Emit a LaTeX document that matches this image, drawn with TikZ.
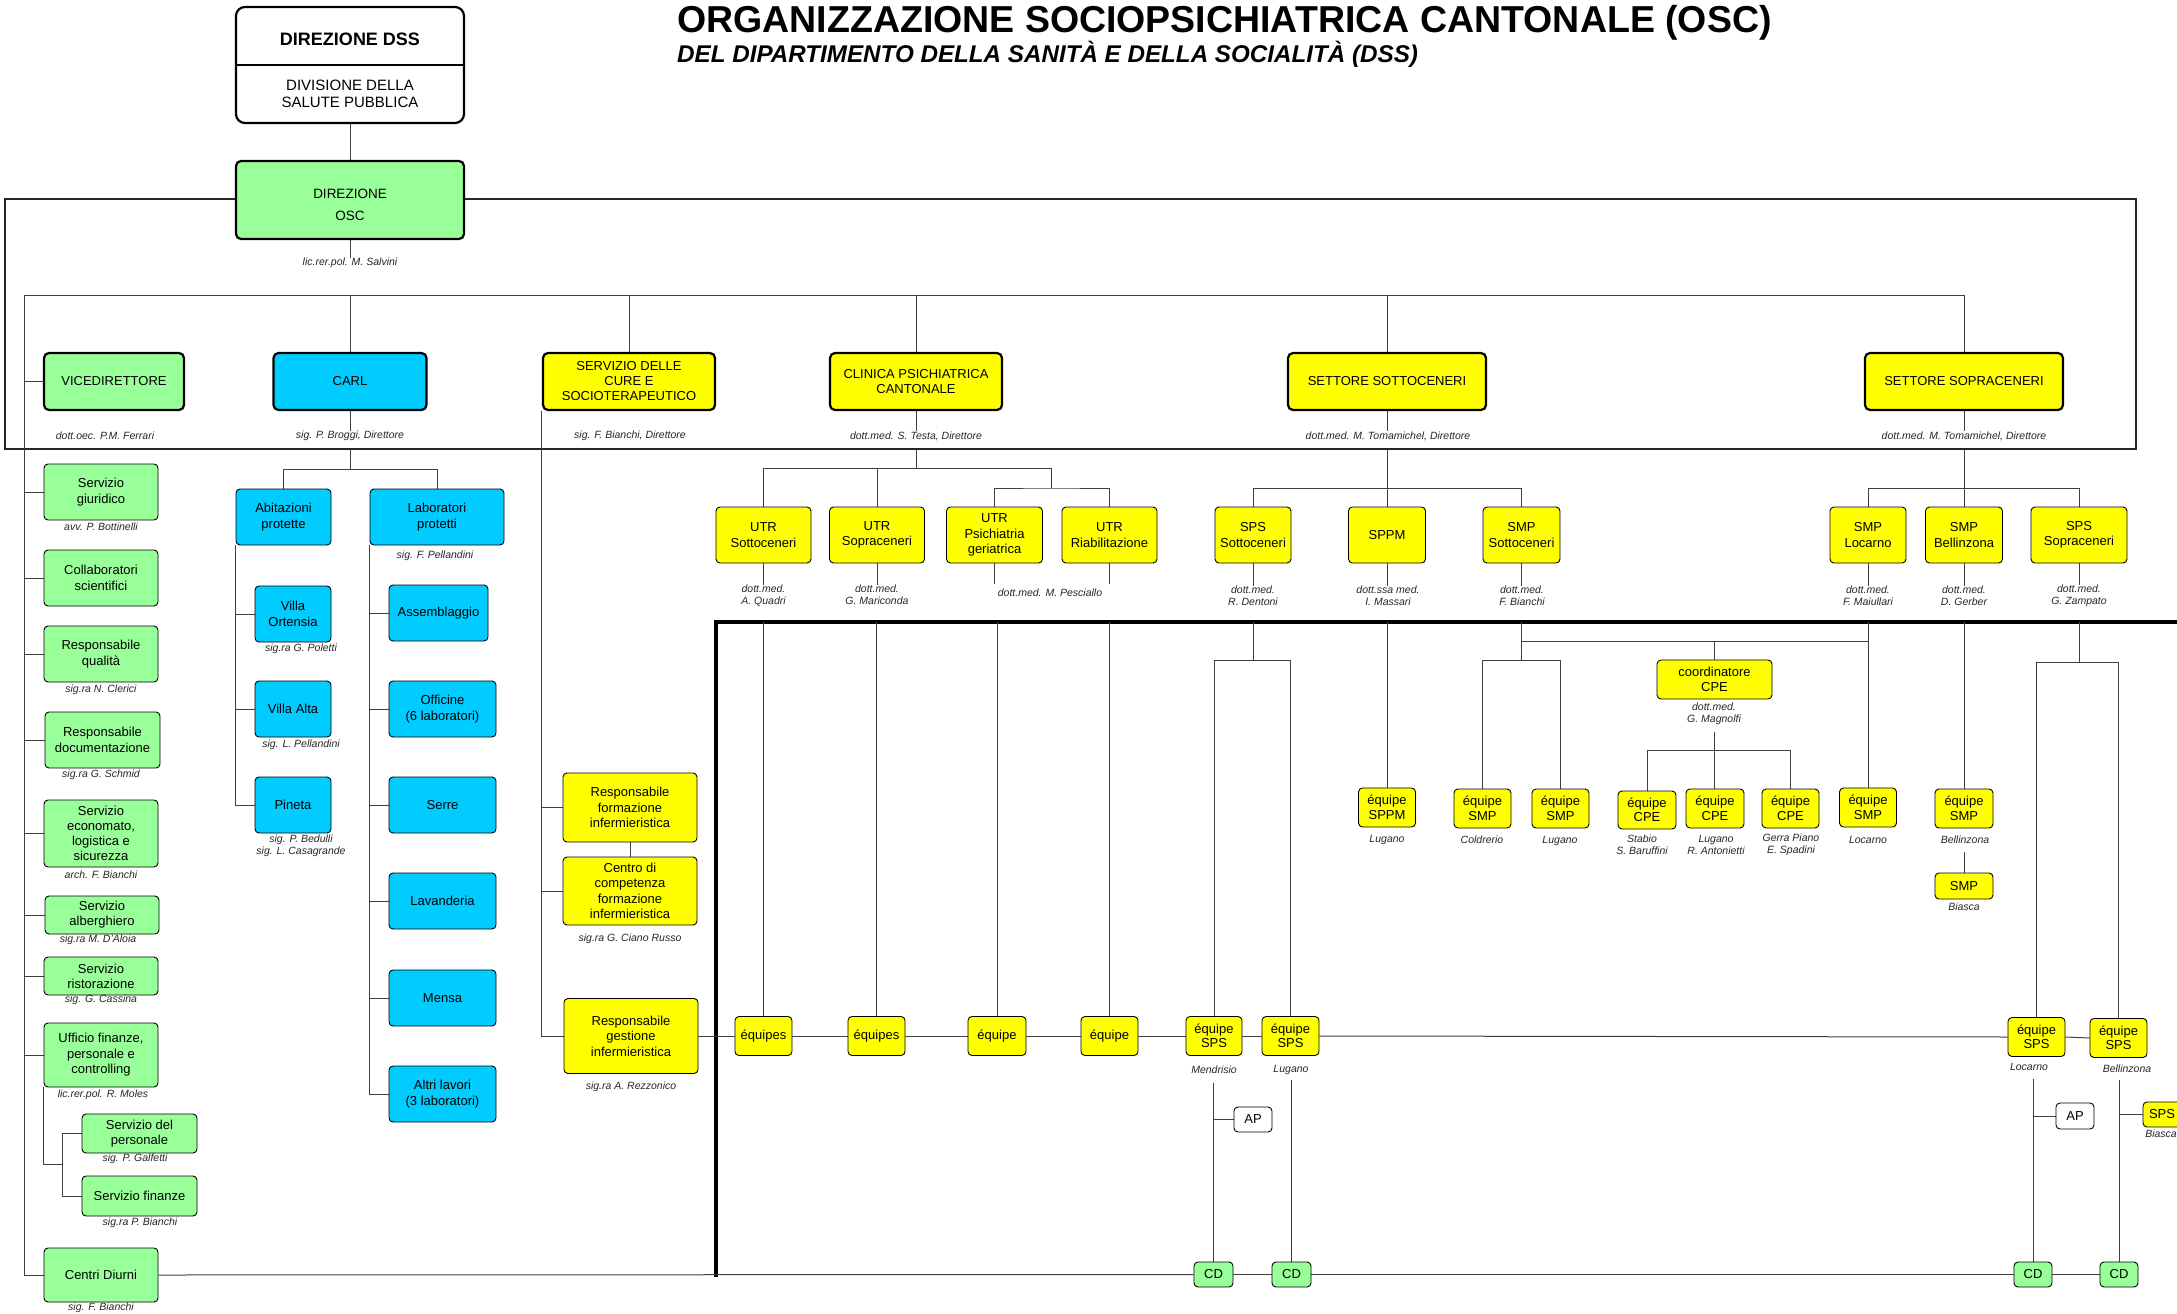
\documentclass[tikz,border=0pt]{standalone}
\usepackage{fontspec}
\setmainfont{Liberation Sans}
\definecolor{cgreen}{HTML}{99FF99}
\definecolor{cblue}{HTML}{00CCFF}
\definecolor{cyellow}{HTML}{FFFF00}
\newcommand\bxf{\fontsize{13}{15.5}\selectfont}
\newcommand\nmf{\fontsize{10.5}{12.2}\selectfont\itshape}
\pgfdeclarelayer{background}
\pgfsetlayers{background,main}
\tikzset{
 bx/.style={draw=black, line width=0.9pt, rounded corners=4pt, align=center, inner sep=0pt, font=\bxf},
 sz/.style 2 args={minimum width=#1pt, minimum height=#2pt},
 greenbox/.style={bx, fill=cgreen},
 bluebox/.style={bx, fill=cblue},
 yelbox/.style={bx, fill=cyellow},
 whbox/.style={bx, fill=white},
 tbox/.style={line width=2.2pt, draw=black, rounded corners=5pt},
 nm/.style={font=\nmf, align=center, inner sep=0pt, text=black!85},
 cn/.style={draw=black!75, line width=1pt},
}
\begin{document}
\begin{tikzpicture}[x=1pt,y=-1pt]
\useasboundingbox (0,0) rectangle (2177,1314);
% titles
\node[anchor=base west, inner sep=0, font=\fontsize{37.5}{41}\selectfont\bfseries] (title) at (677,33) {ORGANIZZAZIONE SOCIOPSICHIATRICA CANTONALE (OSC)};
\node[anchor=base west, inner sep=0, font=\fontsize{24.2}{27}\selectfont\bfseries\itshape] (subtitle) at (677,63) {DEL DIPARTIMENTO DELLA SANITÀ E DELLA SOCIALITÀ (DSS)};
% named coordinates
\coordinate (fTL) at (5,199);
\coordinate (fBR) at (2136,449);
\coordinate (bL) at (24,295);
\coordinate (bR) at (1964,295);
\coordinate (thk) at (716,622);
\coordinate (thkb) at (716,1277);
\coordinate (thkr) at (2177,622);
% DSS
\node[tbox, rounded corners=9pt, sz={228}{116}, fill=white] (dss) at (350,65) {};
\draw[line width=2pt] (dss.west) -- (dss.east);
\node[inner sep=0, font=\fontsize{18}{20}\selectfont\bfseries] (dsst) at (350,39) {DIREZIONE DSS};
\node[inner sep=0, align=center, font=\fontsize{15}{17.5}\selectfont] (dssd) at (350,94) {DIVISIONE DELLA\\SALUTE PUBBLICA};
% OSC
\node[greenbox, tbox, sz={228}{78}] (osc) at (350,200) {};
\node[inner sep=0, align=center, font=\fontsize{13.5}{22}\selectfont] (osct) at (350,205) {DIREZIONE\\OSC};
\node[nm] (oscn) at (350,263) {lic.rer.pol. M. Salvini};
% top row
\node[greenbox, tbox, sz={140}{57}] (vice) at (114,381.5) {VICEDIRETTORE};
\node[bluebox, tbox, sz={153}{57}] (carl) at (350,381.5) {CARL};
\node[yelbox, tbox, sz={172}{57}, font=\fontsize{13}{15}\selectfont] (cure) at (629,381.5) {SERVIZIO DELLE\\CURE E\\SOCIOTERAPEUTICO};
\node[yelbox, tbox, sz={172}{57}, font=\fontsize{13}{15}\selectfont] (clin) at (916,381.5) {CLINICA PSICHIATRICA\\CANTONALE};
\node[yelbox, tbox, sz={198}{57}] (sott) at (1387,381.5) {SETTORE SOTTOCENERI};
\node[yelbox, tbox, sz={198}{57}] (sopr) at (1964,381.5) {SETTORE SOPRACENERI};
\node[nm] (vicen) at (105,436) {dott.oec. P.M. Ferrari};
\node[nm] (carln) at (350,436) {sig. P. Broggi, Direttore};
\node[nm] (curen) at (630,436) {sig. F. Bianchi, Direttore};
\node[nm] (clinn) at (916,436) {dott.med. S. Testa, Direttore};
\node[nm] (sottn) at (1388,436) {dott.med. M. Tomamichel, Direttore};
\node[nm] (soprn) at (1964,436) {dott.med. M. Tomamichel, Direttore};
% left column
\node[greenbox, sz={114}{56}] (sgiu) at (101,492) {Servizio\\giuridico};
\node[nm] (sgiun) at (101,527) {avv. P. Bottinelli};
\node[greenbox, sz={114}{56}] (coll) at (101,578) {Collaboratori\\scientifici};
\node[greenbox, sz={114}{56}] (rqual) at (101,654) {Responsabile\\qualità};
\node[nm] (rqualn) at (101,690) {sig.ra N. Clerici};
\node[greenbox, sz={115}{56}] (rdoc) at (102.5,740) {Responsabile\\documentazione};
\node[nm] (rdocn) at (101,775) {sig.ra G. Schmid};
\node[greenbox, sz={114}{67}, font=\fontsize{13}{15}\selectfont] (secon) at (101,833.5) {Servizio\\economato,\\logistica e\\sicurezza};
\node[nm] (seconn) at (101,875) {arch. F. Bianchi};
\node[greenbox, sz={114}{38}, font=\fontsize{13}{15}\selectfont] (salb) at (102,915) {Servizio\\alberghiero};
\node[nm] (salbn) at (98,940) {sig.ra M. D'Aloia};
\node[greenbox, sz={114}{38}, font=\fontsize{13}{15}\selectfont] (srist) at (101,976) {Servizio\\ristorazione};
\node[nm] (sristn) at (101,1000) {sig. G. Cassina};
\node[greenbox, sz={114}{64}] (uff) at (101,1055) {Ufficio finanze,\\personale e\\controlling};
\node[nm] (uffn) at (103,1095) {lic.rer.pol. R. Moles};
\node[greenbox, sz={115}{39}, font=\fontsize{13}{15}\selectfont] (spers) at (139.5,1133.5) {Servizio del\\personale};
\node[nm] (spersn) at (135,1159) {sig. P. Galfetti};
\node[greenbox, sz={115}{40}] (sfin) at (139.5,1196) {Servizio finanze};
\node[nm] (sfinn) at (140,1223) {sig.ra P. Bianchi};
\node[greenbox, sz={114}{54}] (cdiu) at (101,1275) {Centri Diurni};
\node[nm] (cdiun) at (101,1308) {sig. F. Bianchi};
\coordinate (uk) at (62,1164);
% CARL subtree
\coordinate (cb) at (350,469);
\node[bluebox, sz={95}{56}] (abit) at (283.5,517) {Abitazioni\\protette};
\node[bluebox, sz={134}{56}] (lab) at (437,517) {Laboratori\\protetti};
\node[nm] (labn) at (435,556) {sig. F. Pellandini};
\node[bluebox, sz={76}{56}] (vort) at (293,614) {Villa\\Ortensia};
\node[nm] (vortn) at (301,649) {sig.ra G. Poletti};
\node[bluebox, sz={76}{56}] (valt) at (293,709) {Villa Alta};
\node[nm] (valtn) at (301,745) {sig. L. Pellandini};
\node[bluebox, sz={76}{56}] (pin) at (293,805) {Pineta};
\node[nm] (pinn) at (301,846) {sig. P. Bedulli\\sig. L. Casagrande};
\node[bluebox, sz={99}{56}] (asm) at (438.5,613) {Assemblaggio};
\node[bluebox, sz={107}{56}] (off) at (442.5,709) {Officine\\(6 laboratori)};
\node[bluebox, sz={107}{56}] (ser) at (442.5,805) {Serre};
\node[bluebox, sz={107}{56}] (lav) at (442.5,901) {Lavanderia};
\node[bluebox, sz={107}{56}] (men) at (442.5,998) {Mensa};
\node[bluebox, sz={107}{56}] (alt) at (442.5,1094) {Altri lavori\\(3 laboratori)};
% cure subtree
\node[yelbox, sz={134}{69}] (rform) at (630,807.5) {Responsabile\\formazione\\infermieristica};
\node[yelbox, sz={134}{68}] (ccomp) at (630,891) {Centro di\\competenza\\formazione\\infermieristica};
\node[nm] (ccompn) at (630,939) {sig.ra G. Ciano Russo};
\node[yelbox, sz={134}{75}] (rgest) at (631,1036) {Responsabile\\gestione\\infermieristica};
\node[nm] (rgestn) at (631,1087) {sig.ra A. Rezzonico};
% clinica subtree
\coordinate (cb1) at (1051,468);
\coordinate (cb2) at (1051,488);
\node[yelbox, sz={95}{56}] (utr1) at (763.5,535) {UTR\\Sottoceneri};
\node[yelbox, sz={95}{56}] (utr2) at (877,535) {UTR\\Sopraceneri};
\node[yelbox, sz={96}{56}, font=\fontsize{13}{15.5}\selectfont] (utr3) at (994.5,535) {UTR\\Psichiatria\\geriatrica};
\node[yelbox, sz={95}{56}] (utr4) at (1109.5,535) {UTR\\Riabilitazione};
\node[nm] (utr1n) at (763.5,596) {dott.med.\\A. Quadri};
\node[nm] (utr2n) at (877,595) {dott.med.\\G. Mariconda};
\node[nm] (utr34n) at (1050,593) {dott.med. M. Pesciallo};
% equipe row
\node[yelbox, sz={57}{39}] (eq1) at (763.5,1036) {équipes};
\node[yelbox, sz={57}{39}] (eq2) at (876.5,1036) {équipes};
\node[yelbox, sz={58}{39}] (eq3) at (997,1036) {équipe};
\node[yelbox, sz={57}{39}] (eq4) at (1109.5,1036) {équipe};
\node[yelbox, sz={56}{39}, font=\fontsize{13}{14.5}\selectfont] (esm) at (1214,1036) {équipe\\SPS};
\node[yelbox, sz={57}{39}, font=\fontsize{13}{14.5}\selectfont] (esl) at (1290.5,1036) {équipe\\SPS};
\node[yelbox, sz={57}{39}, font=\fontsize{13}{14.5}\selectfont] (eslo) at (2036.5,1037) {équipe\\SPS};
\node[yelbox, sz={57}{39}, font=\fontsize{13}{14.5}\selectfont] (esb) at (2118.5,1038) {équipe\\SPS};
\node[nm] (esmn) at (1214,1070) {Mendrisio};
\node[nm] (esln) at (1291,1070) {Lugano};
\node[nm] (eslon) at (2029,1067) {Locarno};
\node[nm] (esbn) at (2127,1069) {Bellinzona};
\node[whbox, sz={38}{25}] (apm) at (1253,1119.5) {AP};
\node[whbox, sz={38}{26}] (aplo) at (2075,1116) {AP};
\node[greenbox, sz={39}{25}] (cdm) at (1213.5,1274.5) {CD};
\node[greenbox, sz={39}{25}] (cdl) at (1291.5,1274.5) {CD};
\node[greenbox, sz={38}{25}] (cdlo) at (2033,1274.5) {CD};
\node[greenbox, sz={38}{25}] (cdb) at (2119,1274.5) {CD};
\node[yelbox, sz={38}{25}] (spsb) at (2162,1114.5) {SPS};
\node[nm] (spsbn) at (2161,1134) {Biasca};
% sottoceneri subtree
\coordinate (sb) at (1388,488);
\coordinate (t1) at (1253,660);
\coordinate (t2) at (1522,641);
\coordinate (t3) at (1714,750);
\coordinate (t4) at (2079,662);
\node[yelbox, sz={76}{56}] (spss) at (1253,535) {SPS\\Sottoceneri};
\node[nm] (spssn) at (1253,596) {dott.med.\\R. Dentoni};
\node[yelbox, sz={77}{56}] (sppm) at (1387,535) {SPPM};
\node[nm] (sppmn) at (1388,596) {dott.ssa med.\\I. Massari};
\node[yelbox, sz={77}{56}] (smps) at (1521.5,535) {SMP\\Sottoceneri};
\node[nm] (smpsn) at (1522,596) {dott.med.\\F. Bianchi};
\node[yelbox, sz={57}{39}, font=\fontsize{13}{14.5}\selectfont] (esppm) at (1387,807.5) {équipe\\SPPM};
\node[nm] (esppmn) at (1387,840) {Lugano};
\node[yelbox, sz={57}{39}, font=\fontsize{13}{14.5}\selectfont] (esmc) at (1482.5,808.5) {équipe\\SMP};
\node[nm] (esmcn) at (1482,840) {Coldrerio};
\node[yelbox, sz={57}{39}, font=\fontsize{13}{14.5}\selectfont] (esml) at (1560.5,808.5) {équipe\\SMP};
\node[nm] (esmln) at (1560,841) {Lugano};
\node[yelbox, sz={115}{39}, font=\fontsize{13}{14.5}\selectfont] (coord) at (1714.5,679.5) {coordinatore\\CPE};
\node[nm] (coordn) at (1714,714) {dott.med.\\G. Magnolfi};
\node[yelbox, sz={58}{38}, font=\fontsize{13}{14.5}\selectfont] (cpes) at (1647,810) {équipe\\CPE};
\node[yelbox, sz={58}{39}, font=\fontsize{13}{14.5}\selectfont] (cpel) at (1715,808.5) {équipe\\CPE};
\node[yelbox, sz={57}{39}, font=\fontsize{13}{14.5}\selectfont] (cpeg) at (1790.5,808.5) {équipe\\CPE};
\node[nm] (cpesn) at (1642,845) {Stabio\\S. Baruffini};
\node[nm] (cpeln) at (1716,845) {Lugano\\R. Antonietti};
\node[nm] (cpegn) at (1791,845) {Gerra Piano\\E. Spadini};
% sopraceneri subtree
\node[yelbox, sz={76}{56}] (smpl) at (1868,535) {SMP\\Locarno};
\node[nm] (smpln) at (1868,596) {dott.med.\\F. Maiullari};
\node[yelbox, sz={77}{56}] (smpb) at (1964,535) {SMP\\Bellinzona};
\node[nm] (smpbn) at (1964,596) {dott.med.\\D. Gerber};
\node[yelbox, sz={96}{56}] (spso) at (2079,535) {SPS\\Sopraceneri};
\node[nm] (spson) at (2079,596) {dott.med.\\G. Zampato};
\node[yelbox, sz={57}{39}, font=\fontsize{13}{14.5}\selectfont] (esmlo) at (1868,807.5) {équipe\\SMP};
\node[nm] (esmlon) at (1868,840) {Locarno};
\node[yelbox, sz={58}{39}, font=\fontsize{13}{14.5}\selectfont] (esmb) at (1964,808.5) {équipe\\SMP};
\node[nm] (esmbn) at (1965,840) {Bellinzona};
\node[yelbox, sz={58}{26}] (smpbi) at (1964,886) {SMP};
\node[nm] (smpbin) at (1964,907) {Biasca};

\begin{pgfonlayer}{background}
\draw[line width=2pt, draw=black!85] (fTL) rectangle (fBR);
\draw[line width=4pt, line join=miter] (thkb) -- (thk) -- (thkr);
\draw[cn] (dss.south) -- (osc.north);
\draw[cn] (osc.south) -- (oscn.north);
\draw[cn] (bL) -- (bR);
\draw[cn] (bL) |- (cdiu.west);
\foreach \n in {carl,cure,clin,sott,sopr} \draw[cn] (\n.north) -- (\n.north |- bL);
\foreach \n in {carl,clin,sott,sopr} \draw[cn] (\n.south) -- (\n.south |- \n n.north);
\foreach \n in {vice,sgiu,coll,rqual,rdoc,secon,salb,srist,uff} \draw[cn] (\n.west) -- (\n.west -| bL);
\draw[cn] (uff.south west) |- (uk);
\draw[cn] (spers.west) -| (uk);
\draw[cn] (sfin.west) -| (uk);
% carl
\draw[cn] (cb |- fBR) -- (cb);
\draw[cn] (abit.north) -- (abit.north |- cb) -- (lab.north |- cb) -- (lab.north);
\draw[cn] (abit.south west) -- (abit.south west |- pin.west) -- (pin.west);
\foreach \n in {vort,valt} \draw[cn] (\n.west) -- (\n.west -| abit.south west);
\draw[cn] (lab.south west) -- (lab.south west |- alt.west) -- (alt.west);
\foreach \n in {asm,off,ser,lav,men} \draw[cn] (\n.west) -- (\n.west -| lab.south west);
% cure
\draw[cn] (cure.south west) |- (rgest.west);
\foreach \n in {rform,ccomp} \draw[cn] (\n.west) -- (\n.west -| cure.south west);
\draw[cn] (rform.south) -- (ccomp.north);
% clinica
\draw[cn] (clin.south |- fBR) -- (clin.south |- cb1);
\draw[cn] (utr1.north) |- (cb1);
\draw[cn] (utr2.north) -- (utr2.north |- cb1);
\draw[cn] (cb1) -- (cb2);
\draw[cn] (utr3.north) |- (cb2) -| (utr4.north);
\draw[cn] (utr1.south) -- (utr1.south |- utr1n.north);
\draw[cn] (utr2.south) -- (utr2.south |- utr2n.north);
\draw[cn, shorten >=5pt] (utr3.south) -- (utr3.south |- utr34n.north);
\draw[cn, shorten >=5pt] (utr4.south) -- (utr4.south |- utr34n.north);
\foreach \n in {eq1,eq2,eq3,eq4} \draw[cn] (\n.north) -- (\n.north |- thk);
% equipe row
\draw[cn] (rgest.east) -- (eq1.west);
\draw[cn] (eq1.east) -- (eq2.west);
\draw[cn] (eq2.east) -- (eq3.west);
\draw[cn] (eq3.east) -- (eq4.west);
\draw[cn] (eq4.east) -- (esm.west);
\draw[cn] (esm.east) -- (esl.west);
\draw[cn] (esl.east) -- (eslo.west);
\draw[cn] (eslo.east) -- (esb.west);
\draw[cn, shorten >=9pt] (cdm.north) -- (cdm.north |- esmn.south);
\draw[cn, shorten >=5pt] (cdl.north) -- (cdl.north |- esln.south);
\draw[cn, shorten >=8pt] (cdlo.north) -- (cdlo.north |- eslon.south);
\draw[cn, shorten >=7pt] (cdb.north) -- (cdb.north |- esbn.south);
\draw[cn] (apm.west) -- (apm.west -| cdm.north);
\draw[cn] (aplo.west) -- (aplo.west -| cdlo.north);
\draw[cn] (spsb.west) -- (spsb.west -| cdb.north);
\draw[cn] (cdiu.east) -- (cdm.west);
\draw[cn] (cdm.east) -- (cdl.west);
\draw[cn] (cdl.east) -- (cdlo.west);
\draw[cn] (cdlo.east) -- (cdb.west);
% sottoceneri
\draw[cn] (sppm.north |- fBR) -- (sppm.north);
\draw[cn] (spss.north) |- (smps.north |- sb) -- (smps.north);
\draw[cn] (spss.south) -- (spss.south |- spssn.north);
\draw[cn] (sppm.south) -- (sppm.south |- sppmn.north);
\draw[cn] (smps.south) -- (smps.south |- smpsn.north);
\draw[cn] (spss.south |- thk) -- (t1);
\draw[cn] (esm.north) |- (esl.north |- t1) -- (esl.north);
\draw[cn] (sppm.south |- thk) -- (esppm.north);
\draw[cn] (smps.south |- thk) -- (smps.south |- t1);
\draw[cn] (esmc.north) |- (esml.north |- t1) -- (esml.north);
\draw[cn] (t2) -- (t2 -| smpl.south);
\draw[cn] (coord.north) -- (coord.north |- t2);
\draw[cn, shorten <=7pt] (coordn.south) -- (coordn.south |- cpel.north);
\draw[cn] (cpes.north) |- (cpeg.north |- t3) -- (cpeg.north);
% sopraceneri
\draw[cn] (smpb.north |- fBR) -- (smpb.north);
\draw[cn] (smpl.north) |- (spso.north |- sb) -- (spso.north);
\draw[cn] (smpl.south) -- (smpl.south |- smpln.north);
\draw[cn] (smpb.south) -- (smpb.south |- smpbn.north);
\draw[cn] (spso.south) -- (spso.south |- spson.north);
\draw[cn] (smpl.south |- thk) -- (esmlo.north);
\draw[cn] (smpb.south |- thk) -- (esmb.north);
\draw[cn, shorten >=8pt] (smpbi.north) -- (smpbi.north |- esmbn.south);
\draw[cn] (spso.south |- thk) -- (t4);
\draw[cn] (eslo.north) |- (esb.north |- t4) -- (esb.north);
\end{pgfonlayer}
\end{tikzpicture}
\end{document}
